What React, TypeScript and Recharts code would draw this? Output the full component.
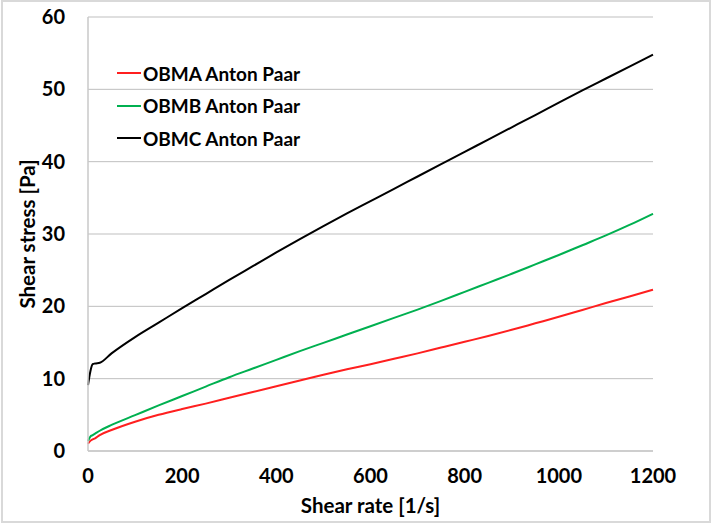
import { CartesianGrid, Line, LineChart, XAxis, YAxis } from "recharts";

// shear rate [1/s] sample points
const shearRate = [0, 5, 10, 15, 25, 50, 100, 150, 200, 250, 300, 350, 400, 450, 500, 550, 600, 650, 700, 750, 800, 850, 900, 950, 1000, 1050, 1100, 1150, 1200];

// shear stress [Pa]
const obmA = [1.0, 1.4, 1.6, 1.75, 2.2, 2.9, 4.05, 5.0, 5.8, 6.55, 7.35, 8.15, 8.95, 9.75, 10.55, 11.3, 12.0, 12.75, 13.5, 14.3, 15.1, 15.9, 16.75, 17.65, 18.55, 19.5, 20.45, 21.35, 22.3];
const obmB = [1.4, 2.0, 2.2, 2.4, 2.8, 3.6, 4.95, 6.3, 7.6, 8.9, 10.2, 11.4, 12.6, 13.8, 14.95, 16.1, 17.25, 18.4, 19.55, 20.75, 22.0, 23.25, 24.5, 25.8, 27.1, 28.45, 29.8, 31.25, 32.8];
const obmC = [9.1, 11.0, 12.0, 12.1, 12.2, 13.5, 15.75, 17.75, 19.75, 21.7, 23.65, 25.55, 27.45, 29.3, 31.1, 32.85, 34.55, 36.25, 37.95, 39.65, 41.35, 43.05, 44.75, 46.45, 48.15, 49.85, 51.5, 53.15, 54.8];

const xTicks = [0, 200, 400, 600, 800, 1000, 1200];
const yTicks = [0, 10, 20, 30, 40, 50, 60];

const series = [
  { key: "a", name: "OBMA Anton Paar", color: "#ff1f1f" },
  { key: "b", name: "OBMB Anton Paar", color: "#00b050" },
  { key: "c", name: "OBMC Anton Paar", color: "#000000" },
];

const data = shearRate.map((x, i) => ({ x, a: obmA[i], b: obmB[i], c: obmC[i] }));

const font = "Lato, 'Open Sans', sans-serif";

const App = () => {
  return (
    <div
      style={{
        position: "absolute",
        left: 0,
        top: 0,
        width: 711,
        height: 523,
        background: "#fff",
        fontFamily: font,
      }}
    >
      <div
        style={{
          position: "absolute",
          left: 1,
          top: 0,
          width: 706,
          height: 519,
          border: "2px solid #d9d9d9",
        }}
      />
      <LineChart
        width={711}
        height={523}
        data={data}
        margin={{ top: 17, right: 58, left: 28, bottom: 32 }}
        style={{ position: "absolute", left: 0, top: 0 }}
      >
        <CartesianGrid vertical={false} stroke="#bfbfbf" strokeWidth={1} />
        <XAxis
          type="number"
          dataKey="x"
          domain={[0, 1200]}
          ticks={xTicks}
          interval={0}
          height={40}
          stroke="#c8c8c8"
          strokeWidth={1.5}
          tickLine={false}
          tickMargin={12}
          tick={{ fill: "#000", fontSize: 20, fontWeight: 700, fontFamily: font }}
          label={{
            value: "Shear rate [1/s]",
            position: "insideBottom",
            offset: -22,
            style: { fill: "#000", fontSize: 20.5, fontWeight: 700, fontFamily: font },
          }}
        />
        <YAxis
          type="number"
          domain={[0, 60]}
          ticks={yTicks}
          interval={0}
          width={60}
          stroke="#c8c8c8"
          strokeWidth={1.5}
          tickLine={false}
          tickMargin={17}
          tick={{ fill: "#000", fontSize: 20, fontWeight: 700, fontFamily: font }}
          label={{
            value: "Shear stress [Pa]",
            angle: -90,
            position: "insideLeft",
            offset: 0,
            style: { textAnchor: "middle", fill: "#000", fontSize: 20.5, fontWeight: 700, fontFamily: font },
          }}
        />
        <YAxis
          yAxisId="right"
          orientation="right"
          domain={[0, 60]}
          width={0}
          tick={false}
          tickLine={false}
          stroke="#c8c8c8"
          strokeWidth={1.5}
        />
        {series.map((s) => (
          <Line
            key={s.key}
            type="monotone"
            dataKey={s.key}
            name={s.name}
            stroke={s.color}
            strokeWidth={2}
            dot={false}
            isAnimationActive={false}
          />
        ))}
      </LineChart>
      <div style={{ position: "absolute", left: 117, top: 57 }}>
        {series.map((s) => (
          <div
            key={s.key}
            style={{ display: "flex", alignItems: "center", height: 32.5 }}
          >
            <div style={{ width: 24, height: 2, background: s.color, marginRight: 2 }} />
            <span style={{ fontSize: 19, fontWeight: 700, color: "#000" }}>{s.name}</span>
          </div>
        ))}
      </div>
    </div>
  );
};

export default App;
